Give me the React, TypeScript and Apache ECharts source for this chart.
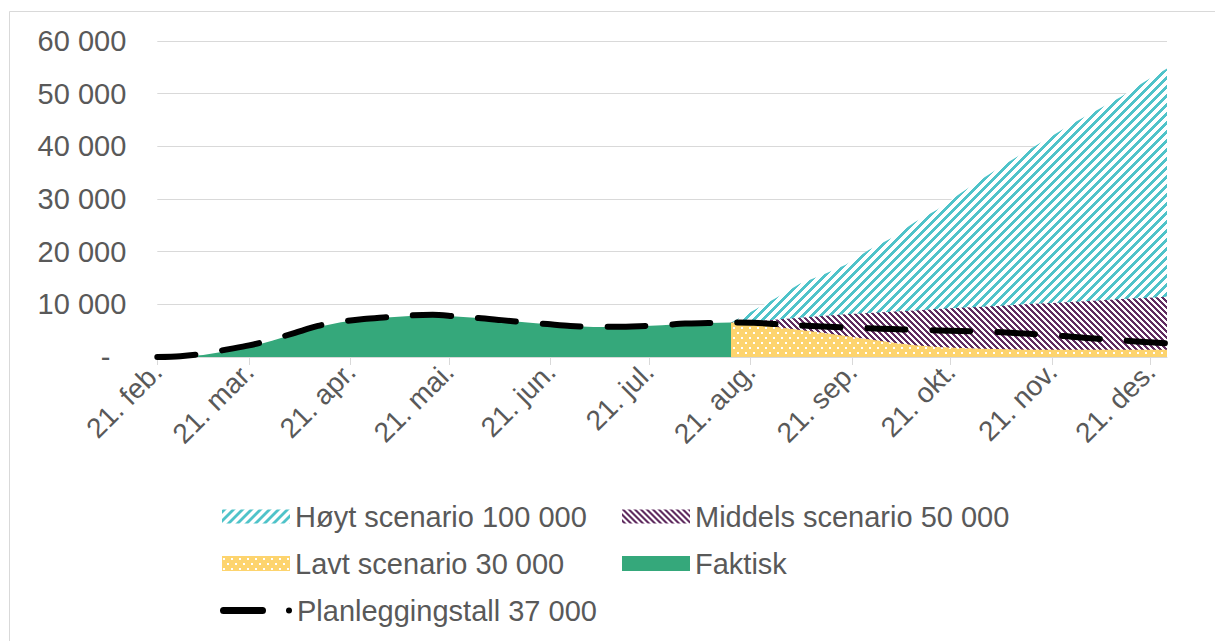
import React, { useEffect, useRef } from "react";
import * as echarts from "echarts";

// ---------- data ----------
const tickDates = [
  "2021-02-21", "2021-03-21", "2021-04-21", "2021-05-21", "2021-06-21", "2021-07-21",
  "2021-08-21", "2021-09-21", "2021-10-21", "2021-11-21", "2021-12-21",
];
const tickLabels = [
  "21. feb.", "21. mar.", "21. apr.", "21. mai.", "21. jun.", "21. jul.",
  "21. aug.", "21. sep.", "21. okt.", "21. nov.", "21. des.",
];

const actualDates = [
  "2021-02-21", "2021-02-28", "2021-03-07", "2021-03-14", "2021-03-21", "2021-03-28",
  "2021-04-04", "2021-04-11", "2021-04-18", "2021-04-25", "2021-05-02", "2021-05-09",
  "2021-05-16", "2021-05-23", "2021-05-30", "2021-06-06", "2021-06-13", "2021-06-20",
  "2021-06-27", "2021-07-04", "2021-07-11", "2021-07-18", "2021-07-25", "2021-08-01",
  "2021-08-08", "2021-08-15",
];
const scenarioDates = [
  "2021-08-15", "2021-08-22", "2021-08-29", "2021-09-05", "2021-09-12", "2021-09-19",
  "2021-09-26", "2021-10-03", "2021-10-10", "2021-10-17", "2021-10-24", "2021-10-31",
  "2021-11-07", "2021-11-14", "2021-11-21", "2021-11-28", "2021-12-05", "2021-12-12",
  "2021-12-19", "2021-12-26",
];

const faktisk = [
  0, 50, 400, 1100, 1900, 3100, 4400, 5700, 6600, 7150, 7500, 7800, 7900, 7700, 7400,
  7000, 6600, 6200, 5900, 5700, 5700, 5850, 6050, 6300, 6450, 6550,
];
const hoyt = [
  6550, 8900, 11300, 13900, 15600, 17500, 20300, 22600, 25600, 28000, 31100, 34000,
  36800, 39400, 42000, 44600, 47000, 49400, 52200, 54800,
];
const middels = [
  6550, 6800, 7100, 7450, 7800, 8100, 8350, 8600, 8850, 9100, 9350, 9550, 9800, 10050,
  10250, 10500, 10750, 11000, 11200, 11450,
];
const lavt = [
  6550, 6100, 5700, 5150, 4600, 4000, 3350, 2750, 2250, 1900, 1700, 1550, 1450, 1400,
  1400, 1400, 1400, 1400, 1400, 1400,
];
const planActual = [
  0, 150, 600, 1400, 2200, 3300, 4600, 5900, 6700, 7200, 7550, 7900, 8000, 7700, 7400,
  7000, 6600, 6250, 5900, 5750, 5750, 5850, 6050, 6350, 6450, 6550,
];
const planForecast = [
  6500, 6250, 6000, 5800, 5600, 5450, 5300, 5150, 5050, 4950, 4850, 4650, 4400, 4150,
  3800, 3450, 3150, 2850, 2600,
];

const NAMES = {
  hoyt: "Høyt scenario 100 000",
  middels: "Middels scenario 50 000",
  lavt: "Lavt scenario 30 000",
  faktisk: "Faktisk",
  plan: "Planleggingstall 37 000",
};

// ---------- styles ----------
const TEXT = "#595959";
const GRID = "#D9D9D9";
const CYAN: [number, number, number] = [79, 195, 201];
const PURPLE: [number, number, number] = [96, 44, 96];
const YELLOW: [number, number, number] = [253, 212, 110];
const GREEN = "#35A87B";
const FONT = "Arial, 'Liberation Sans', sans-serif";
const FS = 29;

// pixel-exact fill patterns (like Excel's pattern fills)
function makePattern(kind: string) {
  const c = document.createElement("canvas");
  let w = 9, h = 9;
  if (kind === "purple") { w = 6; h = 6; }
  if (kind === "yellow") { w = 8; h = 10; }
  c.width = w; c.height = h;
  const ctx = c.getContext("2d")!;
  const img = ctx.createImageData(w, h);
  for (let y = 0; y < h; y++) {
    for (let x = 0; x < w; x++) {
      let col: [number, number, number] = [255, 255, 255];
      if (kind === "cyan") {
        if ((x + y) % 9 < 4) col = CYAN;
      } else if (kind === "purple") {
        if ((((x - y) % 6) + 6) % 6 < 3) col = PURPLE;
      } else {
        const dot = (x >= 1 && x < 3 && y >= 2 && y < 4) || (x >= 5 && x < 7 && y >= 7 && y < 9);
        col = dot ? [255, 255, 255] : YELLOW;
      }
      const k = (y * w + x) * 4;
      img.data[k] = col[0]; img.data[k + 1] = col[1]; img.data[k + 2] = col[2]; img.data[k + 3] = 255;
    }
  }
  ctx.putImageData(img, 0, 0);
  return { image: c.toDataURL(), repeat: "repeat", imageWidth: w, imageHeight: h };
}

const ts = (d: string) => Date.parse(d);
const pairs = (dates: string[], vals: number[]) => dates.map((d, i) => [ts(d), vals[i]]);

export default function App() {
  const ref = useRef<HTMLDivElement>(null);
  useEffect(() => {
    if (!ref.current) return;
    const chart = echarts.init(ref.current, undefined, { renderer: "svg" });
    const pCyan = makePattern("cyan");
    const pPurple = makePattern("purple");
    const pYellow = makePattern("yellow");
    const tickTs = tickDates.map(ts);
    const planDates = actualDates.concat(scenarioDates.slice(1));
    const planVals = planActual.concat(planForecast);

    const areaSeries = (name: string, dates: string[], vals: number[], fill: any) => ({
      name,
      type: "line",
      data: pairs(dates, vals),
      symbol: "none",
      smooth: false,
      lineStyle: { width: 0, opacity: 0 },
      itemStyle: { color: typeof fill === "string" ? fill : "#000" },
      areaStyle: { color: fill, opacity: 1 },
      emphasis: { disabled: true },
      silent: true,
    });

    const legendBase = {
      orient: "horizontal",
      selectedMode: false,
      itemGap: 0,
      padding: 0,
      textStyle: { color: TEXT, fontSize: FS, fontFamily: FONT },
    };

    chart.setOption({
      animation: false,
      graphic: [
        {
          type: "rect",
          shape: { x: 9.5, y: 11.5, width: 1400, height: 800 },
          style: { fill: "none", stroke: GRID, lineWidth: 1 },
          silent: true,
        },
      ],
      grid: { left: 157.3, right: 48, top: 41, bottom: 284 },
      xAxis: {
        type: "value",
        min: ts(actualDates[0]),
        max: ts(scenarioDates[scenarioDates.length - 1]),
        axisLine: { show: true, lineStyle: { color: GRID, width: 1 } },
        axisTick: {
          show: true,
          customValues: tickTs,
          length: 8,
          lineStyle: { color: GRID, width: 1 },
        },
        axisLabel: {
          customValues: tickTs,
          rotate: 45,
          margin: 10,
          color: TEXT,
          fontSize: 28,
          fontFamily: FONT,
          formatter: (v: number) => {
            const i = tickTs.indexOf(v);
            return i >= 0 ? tickLabels[i] : "";
          },
        },
        splitLine: { show: false },
      },
      yAxis: {
        type: "value",
        min: 0,
        max: 60000,
        interval: 10000,
        axisLine: { show: false },
        axisTick: { show: false },
        splitLine: { lineStyle: { color: GRID, width: 1 } },
        axisLabel: {
          margin: 31,
          color: TEXT,
          fontSize: FS,
          fontFamily: FONT,
          formatter: (v: number) =>
            v === 0 ? "{z|-}" : String(v).replace(/\B(?=(\d{3})+(?!\d))/g, " "),
          rich: {
            z: { color: TEXT, fontSize: FS, fontFamily: FONT, padding: [0, 16, 0, 0] },
          },
        },
      },
      legend: [
        {
          ...legendBase, left: 222, top: 502, itemWidth: 68, itemHeight: 14,
          data: [{ name: NAMES.hoyt, icon: "rect", itemStyle: { color: pCyan, borderWidth: 0 } }],
        },
        {
          ...legendBase, left: 622, top: 502, itemWidth: 68, itemHeight: 14,
          data: [{ name: NAMES.middels, icon: "rect", itemStyle: { color: pPurple, borderWidth: 0 } }],
        },
        {
          ...legendBase, left: 222, top: 549, itemWidth: 68, itemHeight: 15,
          data: [{ name: NAMES.lavt, icon: "rect", itemStyle: { color: pYellow, borderWidth: 0 } }],
        },
        {
          ...legendBase, left: 622, top: 549, itemWidth: 68, itemHeight: 15,
          data: [{ name: NAMES.faktisk, icon: "rect", itemStyle: { color: GREEN, borderWidth: 0 } }],
        },
        {
          ...legendBase, left: 220, top: 596, itemWidth: 72, itemHeight: 7,
          data: [
            {
              name: NAMES.plan,
              icon: "path://M3.5,0 L42.5,0 A3.5,3.5 0 0 1 42.5,7 L3.5,7 A3.5,3.5 0 0 1 3.5,0 Z M69,0.5 A3,3 0 0 1 69,6.5 A3,3 0 0 1 69,0.5 Z",
              itemStyle: { color: "#000", borderWidth: 0 },
            },
          ],
        },
      ],
      series: [
        areaSeries(NAMES.hoyt, scenarioDates, hoyt, pCyan),
        areaSeries(NAMES.middels, scenarioDates, middels, pPurple),
        areaSeries(NAMES.lavt, scenarioDates, lavt, pYellow),
        areaSeries(NAMES.faktisk, actualDates, faktisk, GREEN),
        {
          name: NAMES.plan,
          type: "line",
          data: pairs(planDates, planVals),
          symbol: "none",
          smooth: 0.3,
          itemStyle: { color: "#000" },
          lineStyle: { color: "#000", width: 6, type: [38, 27], cap: "round", join: "round" },
          emphasis: { disabled: true },
          silent: true,
        },
      ],
    });
    return () => chart.dispose();
  }, []);
  return (
    <div
      ref={ref}
      style={{ position: "absolute", left: 0, top: 0, width: 1215, height: 641, background: "#fff" }}
    />
  );
}
